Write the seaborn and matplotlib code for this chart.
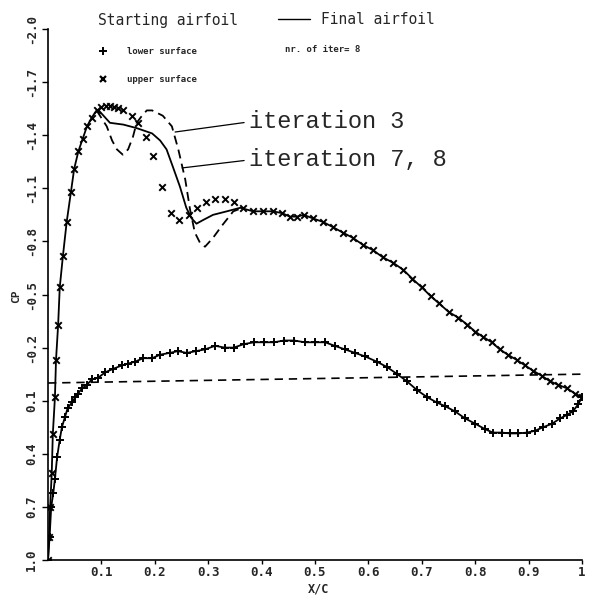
import matplotlib
matplotlib.use('Agg')
import matplotlib.pyplot as plt
from matplotlib.lines import Line2D
import seaborn as sns
import numpy as np

# starting airfoil, upper surface (x markers)
upper_x = [0.000, 0.002, 0.004, 0.007, 0.009, 0.013, 0.015, 0.019, 0.022, 0.028,
           0.035, 0.043, 0.049, 0.057, 0.065, 0.073, 0.082, 0.091, 0.100, 0.108,
           0.116, 0.124, 0.132, 0.141, 0.157, 0.168, 0.183, 0.197, 0.214, 0.230,
           0.246, 0.264, 0.279, 0.296, 0.313, 0.331, 0.349, 0.365, 0.384, 0.403,
           0.421, 0.438, 0.453, 0.466, 0.479, 0.496, 0.515, 0.534, 0.552, 0.571,
           0.590, 0.609, 0.627, 0.646, 0.665, 0.682, 0.700, 0.717, 0.732, 0.751,
           0.768, 0.785, 0.800, 0.815, 0.831, 0.846, 0.861, 0.878, 0.893, 0.908,
           0.925, 0.940, 0.955, 0.972, 0.987, 1.000]
upper_cp = [1.00, 0.87, 0.70, 0.51, 0.29, 0.08, -0.13, -0.33, -0.54, -0.72,
            -0.91, -1.08, -1.21, -1.31, -1.38, -1.45, -1.50, -1.54, -1.56, -1.565,
            -1.565, -1.56, -1.555, -1.54, -1.51, -1.47, -1.39, -1.28, -1.11, -0.96,
            -0.92, -0.95, -0.99, -1.02, -1.04, -1.04, -1.02, -0.99, -0.97, -0.97,
            -0.97, -0.96, -0.94, -0.94, -0.95, -0.93, -0.91, -0.88, -0.85, -0.82,
            -0.78, -0.75, -0.71, -0.68, -0.64, -0.59, -0.54, -0.49, -0.45, -0.40,
            -0.37, -0.33, -0.29, -0.26, -0.23, -0.19, -0.16, -0.13, -0.10, -0.07,
            -0.04, -0.01, 0.01, 0.03, 0.06, 0.08]

# starting airfoil, lower surface (+ markers)
lower_x = [0.000, 0.003, 0.006, 0.010, 0.013, 0.017, 0.022, 0.026, 0.032, 0.037,
           0.045, 0.051, 0.056, 0.064, 0.073, 0.082, 0.094, 0.107, 0.122, 0.139,
           0.150, 0.163, 0.178, 0.195, 0.210, 0.228, 0.243, 0.260, 0.277, 0.294,
           0.313, 0.331, 0.348, 0.367, 0.386, 0.404, 0.423, 0.442, 0.461, 0.481,
           0.500, 0.519, 0.537, 0.556, 0.575, 0.594, 0.616, 0.635, 0.654, 0.672,
           0.691, 0.710, 0.728, 0.743, 0.762, 0.781, 0.800, 0.818, 0.833, 0.850,
           0.865, 0.880, 0.897, 0.912, 0.927, 0.944, 0.959, 0.972, 0.983, 0.993,
           1.000]
lower_cp = [1.00, 0.87, 0.70, 0.62, 0.54, 0.42, 0.32, 0.25, 0.19, 0.14,
            0.11, 0.08, 0.06, 0.03, 0.01, -0.02, -0.03, -0.06, -0.08, -0.10,
            -0.11, -0.12, -0.14, -0.14, -0.16, -0.17, -0.18, -0.17, -0.18, -0.19,
            -0.21, -0.20, -0.20, -0.22, -0.23, -0.23, -0.23, -0.24, -0.24, -0.23,
            -0.23, -0.23, -0.21, -0.19, -0.17, -0.15, -0.12, -0.09, -0.05, -0.01,
            0.04, 0.08, 0.11, 0.13, 0.16, 0.20, 0.23, 0.26, 0.28, 0.28,
            0.285, 0.285, 0.28, 0.27, 0.25, 0.23, 0.20, 0.18, 0.16, 0.12,
            0.08]

# final airfoil (iteration 7, 8), part differing from the start
final_mid_x = [0.095, 0.116, 0.141, 0.166, 0.195, 0.210, 0.222, 0.234, 0.247,
               0.259, 0.269, 0.278, 0.290, 0.309, 0.335, 0.360]
final_mid_cp = [-1.54, -1.47, -1.46, -1.44, -1.41, -1.37, -1.32, -1.22, -1.11,
                -0.99, -0.93, -0.90, -0.92, -0.95, -0.97, -0.99]

# iteration 3
iter3_x = [0.091, 0.110, 0.120, 0.129, 0.140, 0.150, 0.159, 0.166, 0.176, 0.185,
           0.195, 0.215, 0.232, 0.244, 0.257, 0.266, 0.275, 0.285, 0.294, 0.309,
           0.326, 0.347, 0.365]
iter3_cp = [-1.54, -1.45, -1.37, -1.32, -1.29, -1.32, -1.39, -1.47, -1.51, -1.54,
            -1.54, -1.51, -1.45, -1.32, -1.15, -0.98, -0.85, -0.79, -0.77, -0.82,
            -0.89, -0.97, -0.99]

# dashed reference line
ref_x = [0.0, 1.0]
ref_cp = [0.0, -0.05]

xticks = [0.1, 0.2, 0.3, 0.4, 0.5, 0.6, 0.7, 0.8, 0.9, 1.0]
xtick_labels = ['0.1', '0.2', '0.3', '0.4', '0.5', '0.6', '0.7', '0.8', '0.9', '1']
yticks = [1.0, 0.7, 0.4, 0.1, -0.2, -0.5, -0.8, -1.1, -1.4, -1.7, -2.0]
ytick_labels = ['1.0', '0.7', '0.4', '0.1', '-0.2', '-0.5', '-0.8', '-1.1', '-1.4', '-1.7', '-2.0']

sns.set_style('ticks')
plt.rcParams['font.family'] = ['DejaVu Sans Mono', 'DejaVu Sans']

W, H = 589, 597
fig = plt.figure(figsize=(W / 100, H / 100), dpi=100)
ax = fig.add_axes([48 / W, 1 - 560 / H, (582 - 48) / W, (560 - 29) / H])


def fx(px):
    return px / W


def fy(py):
    return 1 - py / H


ux = np.array(upper_x)
ucp = np.array(upper_cp)
final_x = np.concatenate([ux[ux < 0.092], final_mid_x, ux[ux > 0.37]])
final_cp = np.concatenate([ucp[ux < 0.092], final_mid_cp, ucp[ux > 0.37]])

sns.lineplot(x=ref_x, y=ref_cp, color='k', lw=1.2, linestyle=(0, (5, 3.5)), ax=ax)
sns.lineplot(x=iter3_x, y=iter3_cp, sort=False, estimator=None, color='k', lw=1.3,
             linestyle=(0, (5, 3)), ax=ax)
sns.lineplot(x=final_x, y=final_cp, sort=False, estimator=None, color='k', lw=1.3, ax=ax)
sns.lineplot(x=lower_x, y=lower_cp, sort=False, estimator=None, color='k', lw=1.3, ax=ax)
sns.scatterplot(x=upper_x, y=upper_cp, marker='x', color='k', s=22, linewidth=1.4, ax=ax)
sns.scatterplot(x=lower_x, y=lower_cp, marker='+', color='k', s=30, linewidth=1.4, ax=ax)

ax.set_xlim(0, 1)
ax.set_ylim(1.0, -2.0)
ax.set_xticks(xticks)
ax.set_xticklabels(xtick_labels, fontsize=9, fontweight='bold')
ax.set_yticks(yticks)
ax.set_yticklabels(ytick_labels, fontsize=9, fontweight='bold', rotation=90, va='center')
ax.tick_params(axis='y', direction='out', length=4, width=1, color='k', pad=3)
ax.tick_params(axis='x', direction='out', length=3, width=1, color='k', pad=1)
ax.set_xlabel('')
ax.set_ylabel('')
for s in ['left', 'bottom']:
    ax.spines[s].set_color('k')
    ax.spines[s].set_linewidth(1.2)
sns.despine(ax=ax)

fig.text(fx(16), fy(296), 'CP', rotation=90, fontsize=8, fontweight='bold',
         ha='center', va='center')
fig.text(fx(308), fy(589), 'X/C', fontsize=8.5, fontweight='bold', ha='left', va='center')

# legend block
fig.text(fx(98), fy(21), 'Starting airfoil', fontsize=10.5, ha='left', va='center')
fig.add_artist(Line2D([fx(278), fx(310)], [fy(19), fy(19)], color='k', lw=1))
fig.text(fx(321), fy(19), 'Final airfoil', fontsize=10.5, ha='left', va='center')
fig.add_artist(Line2D([fx(103)], [fy(51)], marker='+', color='k', ms=6, mew=1.4))
fig.add_artist(Line2D([fx(103)], [fy(79)], marker='x', color='k', ms=5, mew=1.6))
fig.text(fx(127), fy(51), 'lower surface', fontsize=6.5, fontweight='bold',
         ha='left', va='center')
fig.text(fx(127), fy(79), 'upper surface', fontsize=6.5, fontweight='bold',
         ha='left', va='center')
fig.text(fx(285), fy(49), 'nr. of iter= 8', fontsize=6.5, fontweight='bold',
         ha='left', va='center')

ax.annotate('iteration 3', xy=(0.238, -1.418), xytext=(0.376, -1.475),
            fontfamily='Liberation Mono', fontsize=17, ha='left', va='center',
            arrowprops=dict(arrowstyle='-', lw=0.9, color='k', relpos=(0, 0.5),
                            shrinkA=1, shrinkB=0))
ax.annotate('iteration 7, 8', xy=(0.251, -1.215), xytext=(0.376, -1.26),
            fontfamily='Liberation Mono', fontsize=17, ha='left', va='center',
            arrowprops=dict(arrowstyle='-', lw=0.9, color='k', relpos=(0, 0.5),
                            shrinkA=1, shrinkB=0))

fig.savefig('out.png', dpi=100)
